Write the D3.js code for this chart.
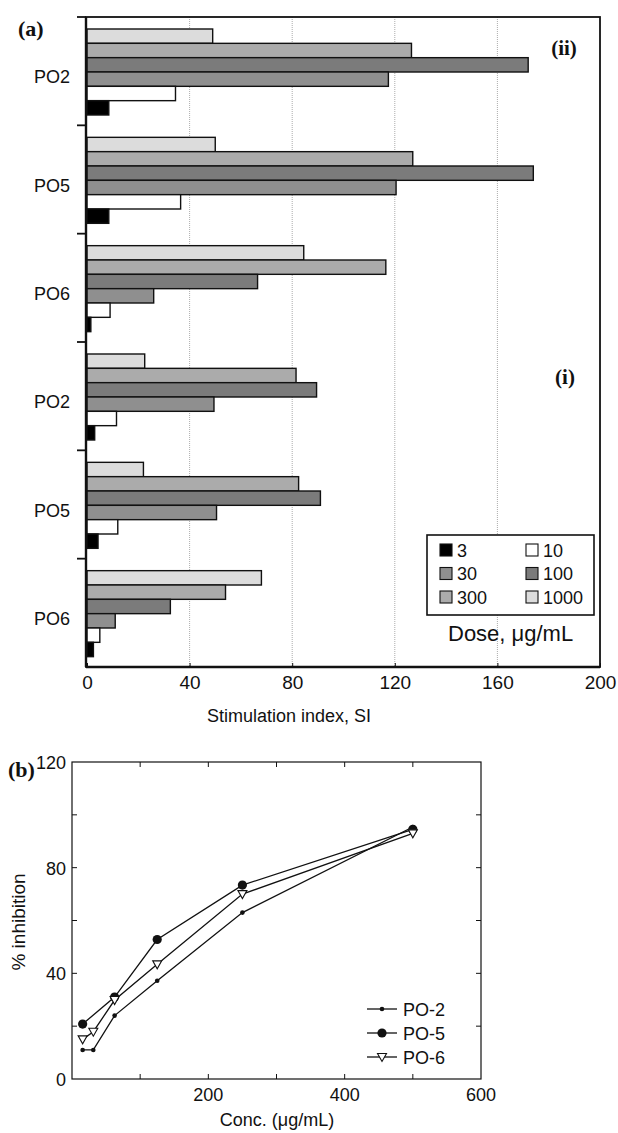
<!DOCTYPE html>
<html>
<head>
<meta charset="utf-8">
<script src="https://cdn.jsdelivr.net/npm/d3@7"></script>
<style>
  body { margin: 0; background: #fff; }
  svg { display: block; }
  text { font-family: "Liberation Sans", Arial, sans-serif; fill: #111; }
  .serif { font-family: "Liberation Serif", "Times New Roman", serif; font-weight: bold; }
</style>
</head>
<body>
<div id="chart"></div>
<script>
// ---- data, panel (a) ----
var groups = ["PO2", "PO5", "PO6", "PO2", "PO5", "PO6"];
var doses = ["1000", "300", "100", "30", "10", "3"]; // top to bottom inside each group
var siValues = [
    [49, 126.5, 172, 117.5, 34.5, 8.5],   // PO2 (ii)
    [50, 127, 174, 120.5, 36.5, 8.5],     // PO5 (ii)
    [84.5, 116.5, 66.5, 26, 9, 1.5],      // PO6 (ii)
    [22.5, 81.5, 89.5, 49.5, 11.5, 3],    // PO2 (i)
    [22, 82.5, 91, 50.5, 12, 4.3],        // PO5 (i)
    [68, 54, 32.5, 11, 5, 2.5]            // PO6 (i)
];
var siTicks = [0, 40, 80, 120, 160, 200];
var legendOrder = ["3", "10", "30", "100", "300", "1000"];

// ---- data, panel (b) ----
var conc = [15.6, 31.25, 62.5, 125, 250, 500];
var po2 = [11, 11, 24, 37.2, 63, 95.4];
var po5Conc = [15.6, 62.5, 125, 250, 500];
var po5 = [20.8, 31, 52.8, 73.4, 94.5];
var po6 = [15, 17.9, 29.9, 43.4, 70, 93];
var concTicks = [200, 400, 600];
var inhTicks = [0, 40, 80, 120];

var doseColor = {
    "3": "#000", "10": "#fff", "30": "#8f8f8f",
    "100": "#7b7b7b", "300": "#ababab", "1000": "#dcdcdc"
};

var svg = d3.select("#chart").append("svg")
    .attr("width", 618)
    .attr("height", 1133);

// ================= panel (a) =================
var x = d3.scaleLinear().domain([0, 200]).range([87, 600]);
var y = d3.scaleBand().domain(d3.range(groups.length)).range([17, 667]);
var yInner = d3.scaleBand().domain(doses).range([12, 98]);

// dotted gridlines
svg.selectAll(".grid")
    .data([40, 80, 120, 160])
    .enter().append("line")
    .attr("x1", d => x(d)).attr("x2", d => x(d))
    .attr("y1", 17).attr("y2", 667)
    .attr("stroke", "#888")
    .attr("stroke-width", 0.7)
    .attr("stroke-dasharray", "1,1");

// bars
var g = svg.selectAll(".group")
    .data(siValues)
    .enter().append("g")
    .attr("transform", (d, i) => "translate(0," + y(i) + ")");

g.selectAll("rect")
    .data(d => d.map((v, j) => ({ dose: doses[j], value: v })))
    .enter().append("rect")
    .attr("x", x(0))
    .attr("y", d => yInner(d.dose))
    .attr("width", d => x(d.value) - x(0))
    .attr("height", yInner.bandwidth())
    .attr("fill", d => doseColor[d.dose])
    .attr("stroke", "#111")
    .attr("stroke-width", 1.4);

// frame
svg.append("rect")
    .attr("x", 86).attr("y", 17)
    .attr("width", 600 - 86).attr("height", 667 - 17)
    .attr("fill", "none")
    .attr("stroke", "#111")
    .attr("stroke-width", 1.8);
svg.append("line")
    .attr("x1", 86).attr("x2", 600)
    .attr("y1", 667).attr("y2", 667)
    .attr("stroke", "#111").attr("stroke-width", 2.6);
svg.append("line")
    .attr("x1", 86).attr("x2", 86)
    .attr("y1", 17).attr("y2", 667)
    .attr("stroke", "#111").attr("stroke-width", 2.4);

// group separator ticks on the left
svg.selectAll(".ytick")
    .data(d3.range(groups.length))
    .enter().append("line")
    .attr("x1", 77).attr("x2", 86)
    .attr("y1", d => y(d)).attr("y2", d => y(d))
    .attr("stroke", "#111").attr("stroke-width", 1.8);

// group labels
svg.selectAll(".ylab")
    .data(groups)
    .enter().append("text")
    .attr("x", 70)
    .attr("y", (d, i) => y(i) + y.bandwidth() / 2 + 12)
    .attr("text-anchor", "end")
    .style("font-size", "18px")
    .text(d => d);

// x axis
var xAxis = svg.append("g")
    .attr("transform", "translate(0,667)")
    .call(d3.axisBottom(x).tickValues(siTicks).tickSizeInner(-4).tickSizeOuter(0).tickPadding(9));
xAxis.select(".domain").remove();
xAxis.selectAll("line").attr("stroke", "#111");
xAxis.selectAll("text")
    .style("font-family", "Liberation Sans, Arial, sans-serif")
    .style("font-size", "19px")
    .attr("fill", "#111");

svg.append("text")
    .attr("x", 289).attr("y", 722)
    .attr("text-anchor", "middle")
    .style("font-size", "18px")
    .text("Stimulation index, SI");

// panel marks
svg.append("text").attr("class", "serif")
    .attr("x", 18).attr("y", 36)
    .style("font-size", "22px").text("(a)");
svg.append("text").attr("class", "serif")
    .attr("x", 564).attr("y", 55).attr("text-anchor", "middle")
    .style("font-size", "21px").text("(ii)");
svg.append("text").attr("class", "serif")
    .attr("x", 565).attr("y", 384).attr("text-anchor", "middle")
    .style("font-size", "21px").text("(i)");

// legend
svg.append("rect")
    .attr("x", 427).attr("y", 535)
    .attr("width", 167).attr("height", 80)
    .attr("fill", "#fff")
    .attr("stroke", "#111").attr("stroke-width", 1.6);

var leg = svg.selectAll(".leg")
    .data(legendOrder)
    .enter().append("g")
    .attr("transform", (d, i) => "translate(" + (i % 2 === 0 ? 440 : 526) + "," + (544 + Math.floor(i / 2) * 23.5) + ")");
leg.append("rect")
    .attr("width", 12).attr("height", 12)
    .attr("fill", d => doseColor[d])
    .attr("stroke", "#111").attr("stroke-width", 1.1);
leg.append("text")
    .attr("x", 17).attr("y", 12.5)
    .style("font-size", "18px")
    .text(d => d);

svg.append("text")
    .attr("x", 448).attr("y", 641)
    .style("font-size", "22px")
    .text("Dose, \u03bcg/mL");

// ================= panel (b) =================
var x2 = d3.scaleLinear().domain([0, 600]).range([72, 481]);
var y2 = d3.scaleLinear().domain([0, 120]).range([1079, 762]);

svg.append("rect")
    .attr("x", 72).attr("y", 762)
    .attr("width", 481 - 72).attr("height", 1079 - 762)
    .attr("fill", "none")
    .attr("stroke", "#111").attr("stroke-width", 1.2);

// inward ticks on all four sides
var yMinor = d3.range(20, 120, 20);
var xMinor = d3.range(100, 600, 100);
svg.selectAll(".ytl").data(yMinor).enter().append("line")
    .attr("x1", 72).attr("x2", 77)
    .attr("y1", d => y2(d)).attr("y2", d => y2(d))
    .attr("stroke", "#111");
svg.selectAll(".ytr").data(yMinor).enter().append("line")
    .attr("x1", 476).attr("x2", 481)
    .attr("y1", d => y2(d)).attr("y2", d => y2(d))
    .attr("stroke", "#111");
svg.selectAll(".xtb").data(xMinor).enter().append("line")
    .attr("x1", d => x2(d)).attr("x2", d => x2(d))
    .attr("y1", 1074).attr("y2", 1079)
    .attr("stroke", "#111");
svg.selectAll(".xtt").data(xMinor).enter().append("line")
    .attr("x1", d => x2(d)).attr("x2", d => x2(d))
    .attr("y1", 762).attr("y2", 767)
    .attr("stroke", "#111");

svg.selectAll(".ylab2").data(inhTicks).enter().append("text")
    .attr("x", 66).attr("y", d => y2(d) + 7)
    .attr("text-anchor", "end")
    .style("font-size", "18px")
    .text(d => d);
svg.selectAll(".xlab2").data(concTicks).enter().append("text")
    .attr("x", d => x2(d)).attr("y", 1101)
    .attr("text-anchor", "middle")
    .style("font-size", "18px")
    .text(d => d);

svg.append("text")
    .attr("transform", "translate(25,922) rotate(-90)")
    .attr("text-anchor", "middle")
    .style("font-size", "19px")
    .text("% inhibition");
svg.append("text")
    .attr("x", 277).attr("y", 1126)
    .attr("text-anchor", "middle")
    .style("font-size", "18px")
    .text("Conc. (\u03bcg/mL)");
svg.append("text").attr("class", "serif")
    .attr("x", 8).attr("y", 777)
    .style("font-size", "22px").text("(b)");

var series = [
    { name: "PO-2", xs: conc, ys: po2, marker: "dot" },
    { name: "PO-5", xs: po5Conc, ys: po5, marker: "circle" },
    { name: "PO-6", xs: conc, ys: po6, marker: "tri" }
];

var line = d3.line().x(d => x2(d[0])).y(d => y2(d[1]));
var triDown = "M-4.5,-3.5L4.5,-3.5L0,4.5Z";

function drawMarker(sel, type) {
    if (type === "dot") {
        sel.append("circle").attr("r", 2.3).attr("fill", "#111");
    } else if (type === "circle") {
        sel.append("circle").attr("r", 4.6).attr("fill", "#111");
    } else {
        sel.append("path").attr("d", triDown)
            .attr("fill", "#fff").attr("stroke", "#111").attr("stroke-width", 1.1);
    }
}

series.forEach(function (s) {
    var pts = s.xs.map((c, i) => [c, s.ys[i]]);
    svg.append("path")
        .datum(pts)
        .attr("d", line)
        .attr("fill", "none")
        .attr("stroke", "#111")
        .attr("stroke-width", 1.3);
    pts.forEach(function (p) {
        var m = svg.append("g").attr("transform", "translate(" + x2(p[0]) + "," + y2(p[1]) + ")");
        drawMarker(m, s.marker);
    });
});

// legend (b)
series.forEach(function (s, i) {
    var ly = 1009 + i * 24;
    svg.append("line")
        .attr("x1", 367).attr("x2", 397)
        .attr("y1", ly).attr("y2", ly)
        .attr("stroke", "#111").attr("stroke-width", 1.3);
    var m = svg.append("g").attr("transform", "translate(382," + ly + ")");
    drawMarker(m, s.marker);
    svg.append("text")
        .attr("x", 403).attr("y", ly + 6.5)
        .style("font-size", "18px")
        .text(s.name);
});
</script>
</body>
</html>
